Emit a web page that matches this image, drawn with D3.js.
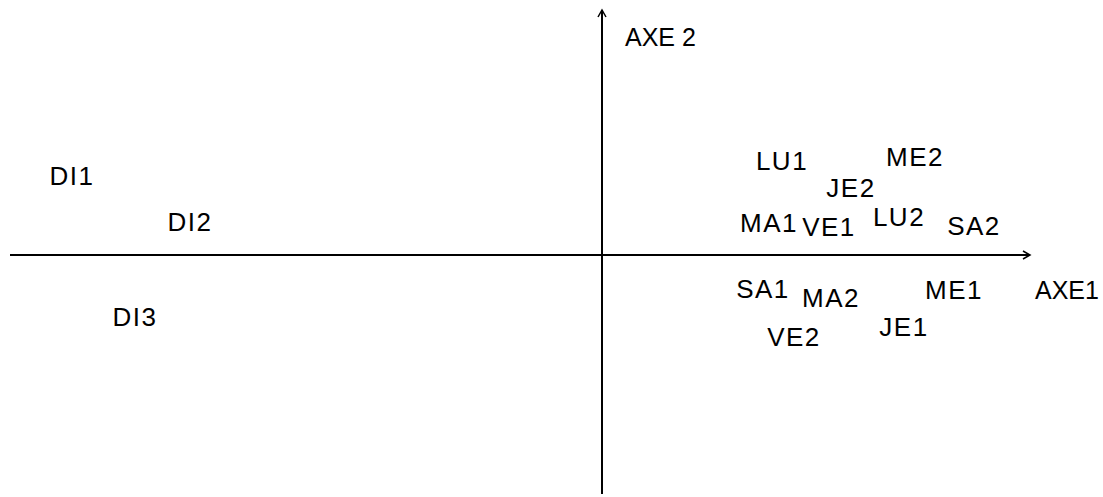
<!DOCTYPE html>
<html>
<head>
<meta charset="utf-8">
<title>AXE 1 / AXE 2</title>
<style>
    body { margin: 0; background: #fff; }
    text { font-family: "Liberation Sans", sans-serif; font-size: 26px; letter-spacing: 1.5px; fill: #000; }
    text.axis-name { font-size: 25px; letter-spacing: 0; }
</style>
</head>
<body>
<svg width="1103" height="497"></svg>
<script src="https://d3js.org/d3.v7.min.js"></script>
<script>

    // labels and their coordinates on the two axes
    var labels = ["DI1", "DI2", "DI3", "LU1", "ME2", "JE2", "MA1", "VE1", "LU2", "SA2",
                  "SA1", "MA2", "ME1", "VE2", "JE1"];
    var axe1 = [-5.30, -4.12, -4.67, 1.80, 3.13, 2.49, 1.67, 2.27, 2.97, 3.72,
                1.61, 2.29, 3.52, 1.92, 3.02];
    var axe2 = [0.79, 0.33, -0.62, 0.94, 0.98, 0.67, 0.32, 0.28, 0.38, 0.29,
                -0.34, -0.43, -0.35, -0.82, -0.72];

    var axisNames = ["AXE1", "AXE 2"];
    var xExtent = [-5.92, 4.28];
    var yExtent = [-2.39, 2.45];

    var svg = d3.select("svg");

    var x = d3.scaleLinear().domain([-6, 4.3]).range([2, 1032]);
    var y = d3.scaleLinear().domain([-2.42, 2.55]).range([497, 0]);

    var data = labels.map(function (d, i) {
        return {name: d, a: axe1[i], b: axe2[i]};
    });

    // axes
    var axes = svg.append("g").attr("stroke", "#000").attr("stroke-width", 2).attr("fill", "none");

    axes.append("line")
        .attr("x1", x(xExtent[0])).attr("x2", x(xExtent[1]))
        .attr("y1", y(0)).attr("y2", y(0));

    axes.append("line")
        .attr("x1", x(0)).attr("x2", x(0))
        .attr("y1", y(yExtent[0])).attr("y2", y(yExtent[1]));

    // arrow heads
    axes.append("path")
        .attr("stroke-width", 1.5)
        .attr("d", "M" + (x(xExtent[1]) - 7) + "," + (y(0) - 4) + "L" + x(xExtent[1]) + "," + y(0) +
                   "L" + (x(xExtent[1]) - 7) + "," + (y(0) + 4));

    axes.append("path")
        .attr("stroke-width", 1.5)
        .attr("d", "M" + (x(0) - 4) + "," + (y(yExtent[1]) + 7) + "L" + x(0) + "," + y(yExtent[1]) +
                   "L" + (x(0) + 4) + "," + (y(yExtent[1]) + 7));

    // axis names
    svg.append("text")
        .attr("class", "axis-name")
        .attr("x", x(xExtent[1]) + 5)
        .attr("y", y(-0.35))
        .attr("dy", "0.35em")
        .text(axisNames[0]);

    svg.append("text")
        .attr("class", "axis-name")
        .attr("x", x(0) + 23)
        .attr("y", y(2.18))
        .attr("dy", "0.35em")
        .text(axisNames[1]);

    // point labels
    svg.append("g")
        .selectAll("text")
        .data(data)
        .enter().append("text")
        .attr("x", function (d) { return x(d.a); })
        .attr("y", function (d) { return y(d.b); })
        .attr("dy", "0.35em")
        .attr("text-anchor", "middle")
        .text(function (d) { return d.name; });

</script>
</body>
</html>
